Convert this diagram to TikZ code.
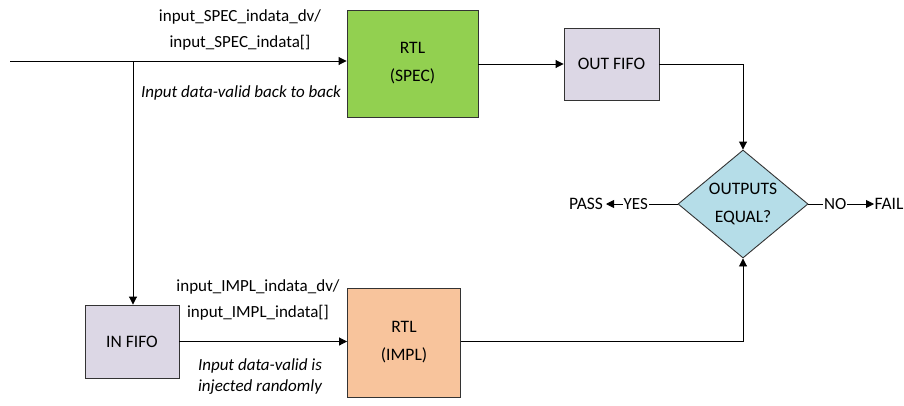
\documentclass[tikz,border=0pt]{standalone}
\usepackage{fontspec}
\setmainfont{Carlito}
\usetikzlibrary{shapes.geometric,arrows.meta}
\definecolor{specgreen}{HTML}{92D050}
\definecolor{fifolav}{HTML}{DCD7E5}
\definecolor{implpeach}{HTML}{F8C49C}
\definecolor{diablue}{HTML}{B5DDE8}
\tikzset{
  blk/.style={draw=black!80, line width=0.9pt, inner sep=0pt, align=center, font=\fontsize{17.5}{28}\selectfont},
  lbl/.style={inner sep=0pt, align=center, font=\fontsize{17}{26}\selectfont},
  ilbl/.style={lbl, font=\fontsize{17}{21}\selectfont\itshape},
  conn/.style={line width=0.9pt, -{Triangle[length=8pt,width=8pt]}},
  yn/.style={fill=white, inner sep=1pt, font=\fontsize{17}{20}\selectfont, xshift=-6pt},
}
\begin{document}
\begin{tikzpicture}[x=1pt,y=-1pt]
\useasboundingbox (0,0) rectangle (904,405);
\node[blk, fill=specgreen, minimum width=131pt, minimum height=107pt] (spec) at (412.5,63.5) {RTL\\(SPEC)};
\node[blk, fill=fifolav, minimum width=95pt, minimum height=72pt] (ofifo) at (611.5,64) {OUT FIFO};
\node[blk, fill=fifolav, minimum width=94pt, minimum height=73pt] (ififo) at (132,341.5) {IN FIFO};
\node[blk, fill=implpeach, minimum width=113pt, minimum height=109pt] (impl) at (404,342.5) {RTL\\(IMPL)};
\node[blk, diamond, fill=diablue, minimum width=130pt, minimum height=108pt, aspect=1.2, inner sep=0pt] (eq) at (743,204) {OUTPUTS\\EQUAL?};
\node[lbl, font=\fontsize{17.5}{20}\selectfont] (pass) at (586,204) {PASS};
\node[lbl, font=\fontsize{17.5}{20}\selectfont] (fail) at (889,204) {FAIL};
\coordinate (in) at (10,61);
\coordinate (br) at (133,61);
\coordinate (ps) at (606,204);
\coordinate (fs) at (874,204);
% connectors
\draw[conn] (in) -- (spec.west |- in);
\draw[conn] (br) -- (br |- ififo.north);
\draw[conn] (spec.east |- ofifo.west) -- (ofifo.west);
\draw[conn] (ofifo.east) -| (eq.north);
\draw[conn] (ififo.east) -- (impl.west |- ififo.east);
\draw[conn] (impl.east |- ififo.east) -| (eq.south);
\draw[conn] (eq.west) -- node[yn] {YES} (ps);
\draw[conn] (eq.east) -- node[yn] {NO} (fs);
% labels
\node[lbl] (l1) at (240,30) {input\_SPEC\_indata\_dv/\\input\_SPEC\_indata[]};
\node[ilbl] (l2) at (241,93) {Input data-valid back to back};
\node[lbl] (l3) at (258,300) {input\_IMPL\_indata\_dv/\\input\_IMPL\_indata[]};
\node[ilbl] (l4) at (260,377) {Input data-valid is\\injected randomly};
\end{tikzpicture}
\end{document}
